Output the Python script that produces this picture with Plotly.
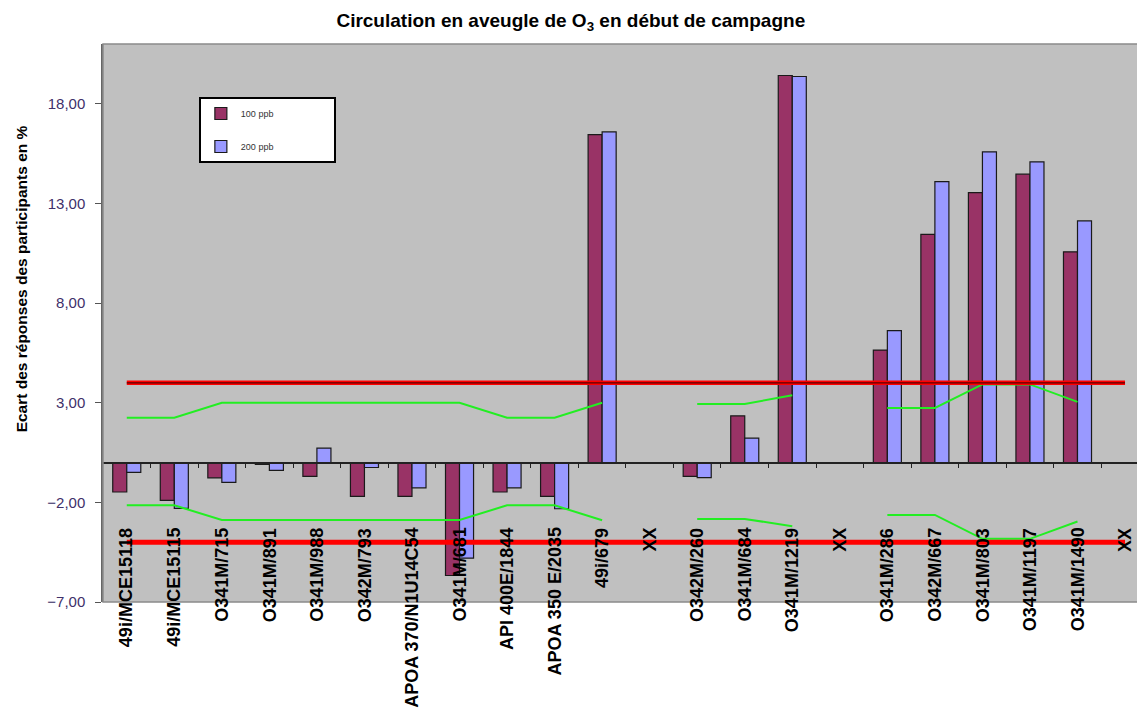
import plotly.graph_objects as go

# ---- data ----
categories = ["49i/MCE15118", "49i/MCE15115", "O341M/715", "O341M/891", "O341M/988",
              "O342M/793", "APOA 370/N1U14C54", "O341M/681", "API 400E/1844",
              "APOA 350 E/2035", "49i/679", "XX", "O342M/260", "O341M/684",
              "O341M/1219", "XX", "O341M/286", "O342M/667", "O341M/803",
              "O341M/1197", "O341M/1490", "XX"]

ppb100 = [-1.48, -1.9, -0.77, -0.1, -0.7, -1.7, -1.7, -5.67, -1.48, -1.7, 16.45, None,
          -0.7, 2.34, 19.42, None, 5.64, 11.45, 13.54, 14.47, 10.57, None]
ppb200 = [-0.5, -2.3, -1.0, -0.4, 0.72, -0.25, -1.27, -4.8, -1.27, -2.32, 16.59, None,
          -0.76, 1.22, 19.37, None, 6.62, 14.09, 15.59, 15.09, 12.12, None]

green_upper = [2.25, 2.25, 3.0, 3.0, 3.0, 3.0, 3.0, 3.0, 2.25, 2.25, 3.0, None,
               2.94, 2.94, 3.37, None, 2.74, 2.74, 3.92, 3.92, 3.04, None]
green_lower = [-2.15, -2.15, -2.88, -2.88, -2.88, -2.88, -2.88, -2.88, -2.15, -2.15, -2.9, None,
               -2.83, -2.83, -3.2, None, -2.63, -2.63, -3.83, -3.83, -2.96, None]

red_upper = [4.0, 4.0, 4.0, 4.0, 4.0, 4.0, 4.0, 4.0, 4.0, 4.0, 4.0,
             4.0, 4.0, 4.0, 4.0, 4.0, 4.0, 4.0, 4.0, 4.0, 4.0, 4.0]
red_lower = [-4.0, -4.0, -4.0, -4.0, -4.0, -4.0, -4.0, -4.0, -4.0, -4.0, -4.0,
             -4.0, -4.0, -4.0, -4.0, -4.0, -4.0, -4.0, -4.0, -4.0, -4.0, -4.0]

series_names = ["100 ppb", "200 ppb"]
y_ticks = [-7, -2, 3, 8, 13, 18]
y_title = "Ecart des réponses des participants en %"
label_y = -3.18  # data y where the rotated category labels start

FONT = "Liberation Sans, Arial, sans-serif"
PAD = "\u00a0" * 22  # widen the legend box
xs = list(range(len(categories)))

fig = go.Figure()
fig.add_trace(go.Bar(x=xs, y=ppb100, name=series_names[0] + PAD,
                     marker=dict(color="#993366", line=dict(color="#1a1a1a", width=1.2)),
                     legendgroup="a"))
fig.add_trace(go.Bar(x=xs, y=ppb200, name=series_names[1] + PAD,
                     marker=dict(color="#9999FF", line=dict(color="#1a1a1a", width=1.2)),
                     legendgroup="b"))

fig.add_trace(go.Scatter(x=xs, y=green_upper, mode="lines", line=dict(color="#22EE22", width=2),
                         connectgaps=False, showlegend=False, hoverinfo="skip"))
fig.add_trace(go.Scatter(x=xs, y=green_lower, mode="lines", line=dict(color="#22EE22", width=2),
                         connectgaps=False, showlegend=False, hoverinfo="skip"))
fig.add_trace(go.Scatter(x=xs, y=red_upper, mode="lines", line=dict(color="#FF0000", width=4.5),
                         showlegend=False, hoverinfo="skip"))
fig.add_trace(go.Scatter(x=xs, y=red_upper, mode="lines", line=dict(color="#5a0000", width=1.2),
                         showlegend=False, hoverinfo="skip"))
fig.add_trace(go.Scatter(x=xs, y=red_lower, mode="lines", line=dict(color="#FF0000", width=5),
                         showlegend=False, hoverinfo="skip"))

for i, lab in enumerate(categories):
    fig.add_annotation(x=i, y=label_y, xref="x", yref="y", text=lab, textangle=-90,
                       showarrow=False, xanchor="center", yanchor="top",
                       font=dict(family=FONT, size=18, color="black", weight="bold"))

# y-axis title (placed like the reference, above the vertical centre)
fig.add_annotation(x=-0.0787, y=0.58, xref="paper", yref="paper", text=y_title, textangle=-90,
                   showarrow=False, xanchor="center", yanchor="middle",
                   font=dict(family=FONT, size=15.5, color="black", weight="bold"))

# page body has an 8px margin: figure is sized/margined so the plot lands where the reference has it
fig.update_layout(
    width=1137, height=700,
    margin=dict(l=95, r=0, t=36, b=106),
    paper_bgcolor="white", plot_bgcolor="#C0C0C0",
    separators=", ",
    barmode="group", bargap=0.41, bargroupgap=0,
    title=dict(text="Circulation en aveugle de O<sub>3</sub> en début de campagne",
               x=0.495, xref="container", xanchor="center", y=0.983, yanchor="middle",
               font=dict(family=FONT, size=19, color="black", weight="bold")),
    legend=dict(x=0.092, y=0.905, xanchor="left", yanchor="top", bgcolor="white",
                bordercolor="black", borderwidth=2, font=dict(family=FONT, size=9, color="#333"),
                tracegroupgap=14, itemwidth=30),
    showlegend=True,
)

fig.update_xaxes(range=[-0.5, 21.42], anchor="free", position=0.25,
                 tickvals=[k + 0.5 for k in range(len(categories) - 1)],
                 showticklabels=False, ticks="outside", ticklen=5, tickcolor="#222",
                 showline=True, linecolor="#222", linewidth=1.5, showgrid=False, zeroline=False)
fig.update_yaxes(range=[-7, 21], tickvals=y_ticks, tickformat=".2f",
                 ticks="outside", ticklen=6, tickcolor="#555", ticklabelstandoff=7,
                 showline=True, linecolor="#666", linewidth=1.5, showgrid=False, zeroline=False,
                 tickfont=dict(family=FONT, size=15, color="#40306A"))

# plot area frame (top / bottom)
fig.add_shape(type="rect", xref="paper", yref="paper", x0=0, x1=1.01, y0=0, y1=1,
              line=dict(color="#8a8a8a", width=1.5), layer="above")

fig.write_html("out.html")
